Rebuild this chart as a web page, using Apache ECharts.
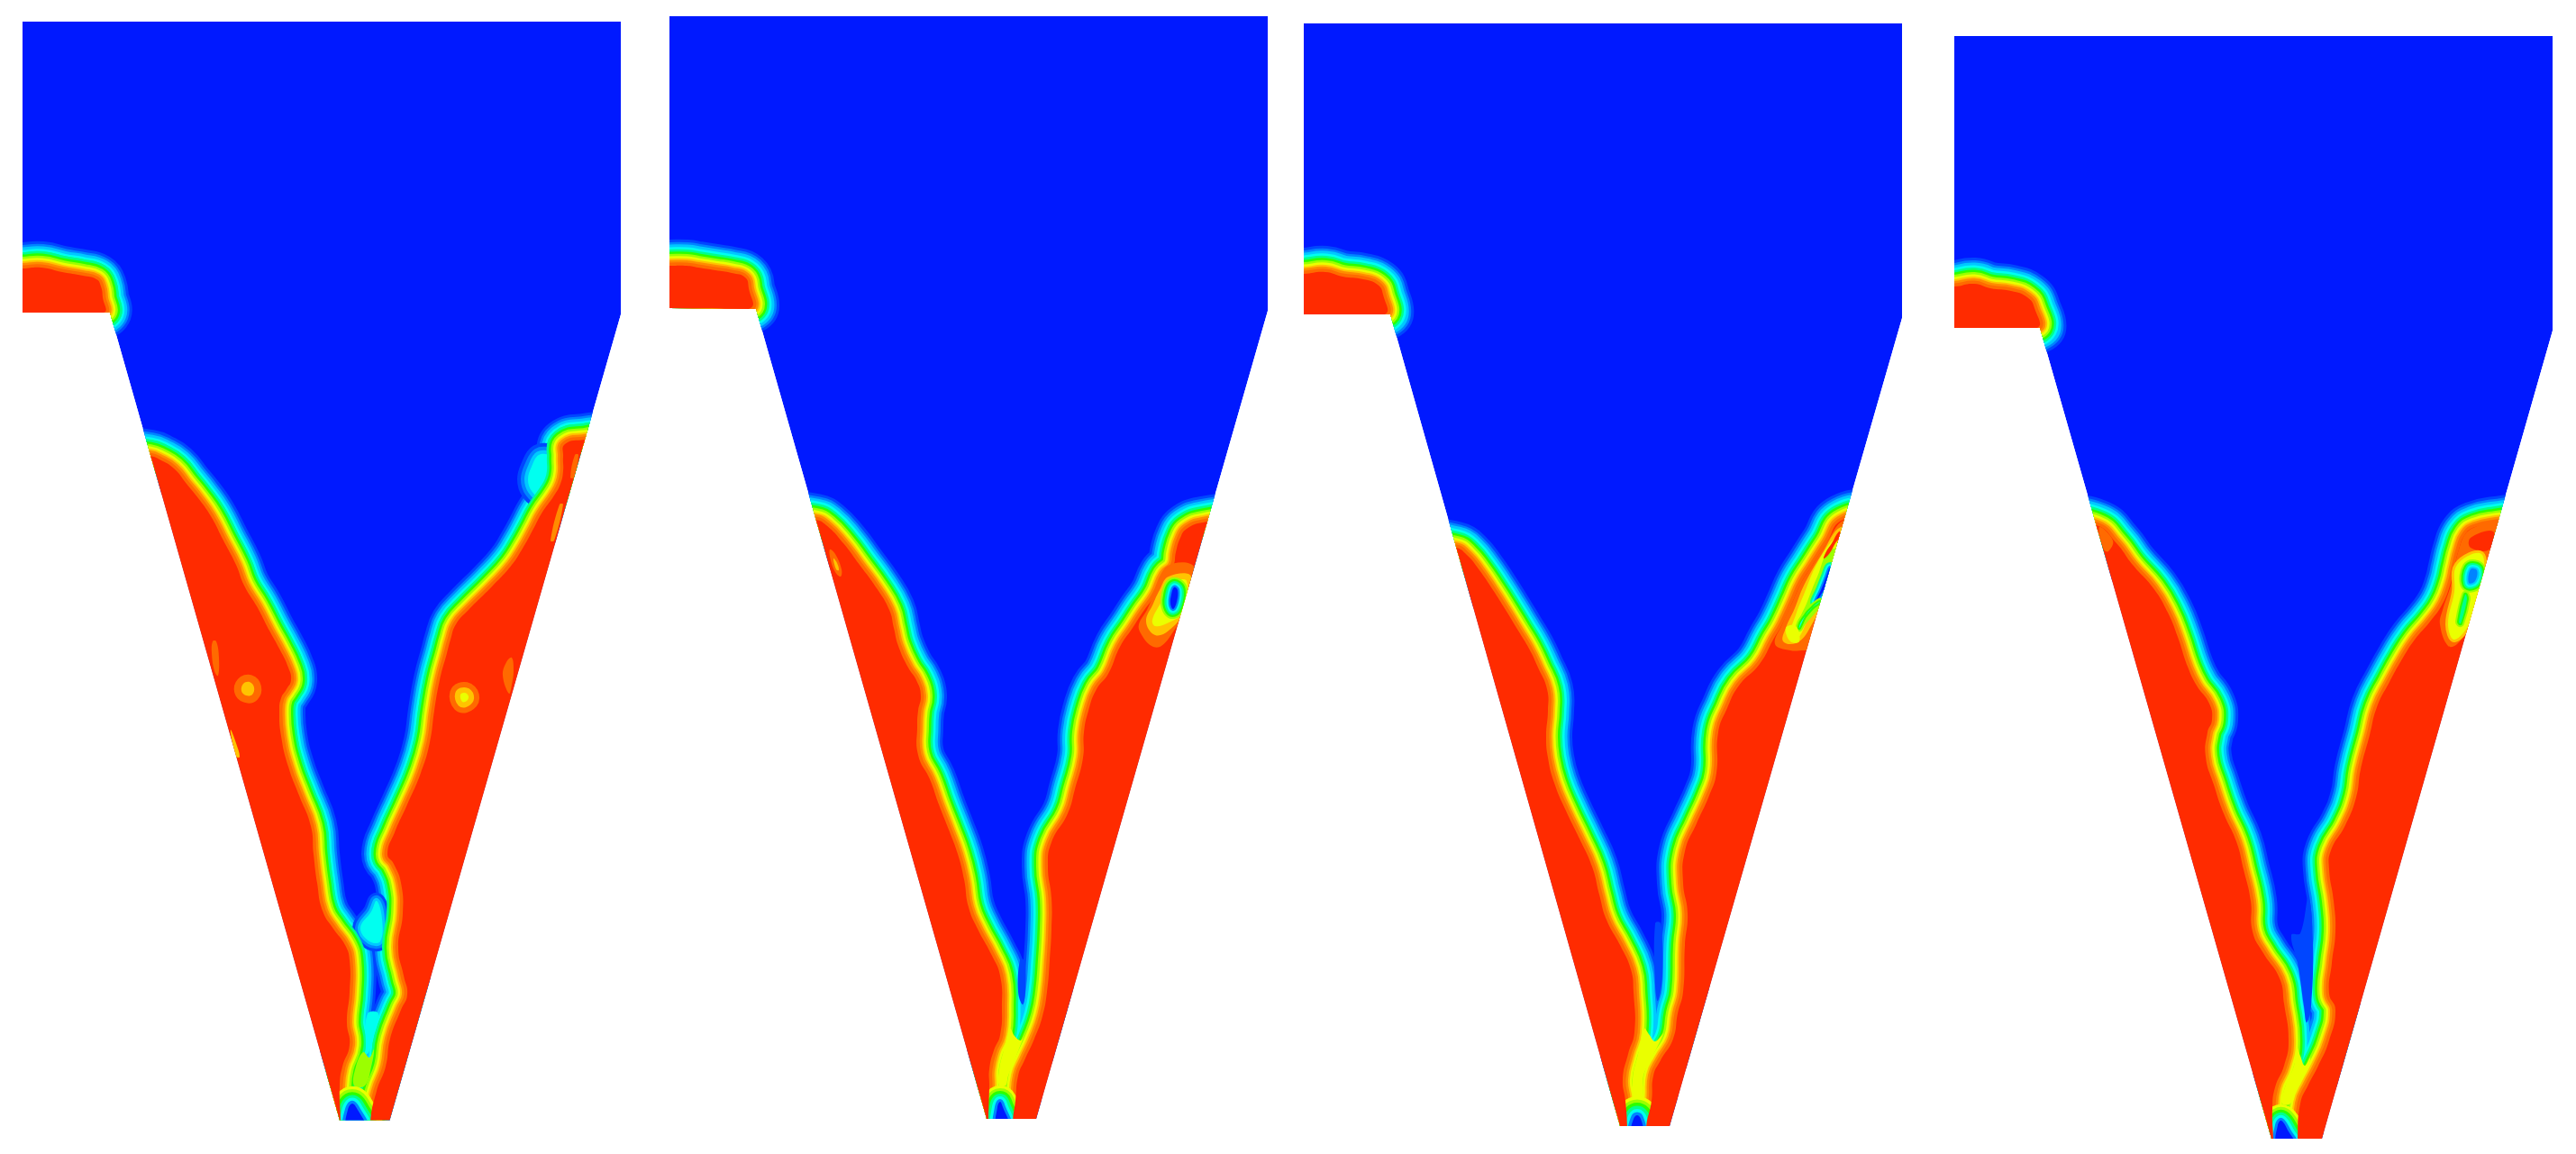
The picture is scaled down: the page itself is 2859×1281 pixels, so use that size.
<!DOCTYPE html>
<html><head><meta charset="utf-8">
<style>html,body{margin:0;padding:0;background:#fff}#c{width:2859px;height:1281px}</style>
<script src="https://cdn.jsdelivr.net/npm/echarts@6/dist/echarts.min.js"></script>
</head><body><div id="c"></div>
<script>
// colour levels of the volume-fraction rainbow
const BLUE='#0019ff',LB='#0046ff',SKY='#0084ff',CY1='#00c8ff',CY='#00fff0',SP='#00ff8c',GR='#2bff00',LI='#9bff00',YE='#eaff00',AM='#ffc400',OR2='#ff8c00',OR='#ff6a00',RED='#ff2b00';
// [colour, distance from the red edge]
const BANDS=[[LB,29],[SKY,26],[CY1,23.5],[CY,20.5],[SP,18],[GR,15.5],[LI,13],[YE,10.5],[AM,8],[OR2,6],[OR,3.5]];
const INNER_FROM=4;

// Panel 1
const p1Domain=[[25,24],[689,24],[689,349],[432.5,1243.5],[377,1243.5],[122,347],[25,347]];
const p1Inlet=[[0,298],[25,298],[46,297],[69,302],[92,306],[107,310],[112,318],[114,330],[115,347],[60,347],[0,347]];
const p1Left=[[166,506],[177,510],[193,520],[207,537],[220,553],[234,573],[248,600],[262,627],[271,650],[285,673],[299,700],[310,720],[320,741],[323,755],[318,765],[312,775],[310,789],[312,817],[320,851],[332,883],[345,917],[348,948],[352,980],[358,1011],[370,1031],[383,1049],[388,1066],[388,1101],[385,1135],[388,1160],[380,1184],[377,1205],[378,1246]];
const p1Right=[[649,488],[627,493],[625,507],[625,523],[622,537],[615,550],[601,570],[592,587],[581,607],[568,627],[547,650],[520,677],[506,693],[500,710],[496,725],[488,755],[482,789],[477,824],[467,858],[452,893],[438,924],[430,948],[437,959],[445,980],[447,1014],[442,1052],[448,1083],[452,1104],[445,1121],[433,1153],[428,1184],[418,1211],[411,1246]];
const p1Pre=[
 [[LB,SKY,CY1,CY],4,[[598,505],[590,518],[586,532],[590,545],[600,552],[612,540],[614,520],[610,506]]],
 [[LB,SKY,CY1,CY],3,[[400,1030],[412,1012],[418,1000],[424,1020],[422,1045],[410,1045]]]
];
const p1Under=[
 [[CY],0,[[408,1125],[420,1125],[414,1153],[408,1170],[406,1160]]],
 [[LI],0,[[403,1168],[410,1174],[415,1165],[412,1184],[405,1205],[393,1205],[395,1184]]],
 [[YE,LI,GR,SP,CY,SKY,BLUE],3.2,[[385,1250],[386,1232],[391,1225],[397,1232],[405,1250]]]
];
const p1Over=[
 [[OR,AM],8,[[270,759],[277,757],[282,763],[280,771],[273,772],[268,767]]],
 [[OR,AM,YE],6,[[511,771],[516,769],[520,773],[518,778],[513,779]]],
 [[OR],0,[[236,712],[240,712],[243,730],[242,750],[238,745],[235,725]]],
 [[OR],0,[[562,735],[568,730],[570,745],[568,760],[565,770],[558,750]]],
 [[AM],0,[[256,810],[262,825],[266,840],[262,840],[258,825]]],
 [[OR],0,[[638,505],[642,505],[637,530],[633,530]]],
 [[OR2],0,[[621,560],[625,560],[615,600],[611,600]]]
];

// Panel 2
const p2Domain=[[743,18],[1407,18],[1407,345],[1150,1242],[1095,1242],[839,343],[743,342]];
const p2Inlet=[[700,295],[743,295],[762,295],[775,297],[794,300],[812,303],[827,308],[831,320],[833,342],[790,342],[700,342]];
const p2Left=[[905,577],[917,583],[936,603],[954,627],[973,653],[987,677],[992,697],[997,717],[1008,741],[1017,755],[1022,772],[1019,789],[1018,806],[1019,838],[1032,865],[1042,893],[1053,921],[1063,948],[1070,976],[1075,1007],[1085,1031],[1100,1059],[1110,1083],[1112,1118],[1110,1149],[1103,1166],[1098,1187],[1098,1205],[1097,1246]];
const p2Right=[[1335,580],[1317,587],[1310,597],[1305,613],[1302,628],[1292,638],[1282,660],[1268,680],[1257,697],[1243,718],[1230,748],[1217,765],[1208,789],[1203,813],[1202,841],[1193,876],[1185,903],[1167,935],[1163,962],[1167,997],[1167,1031],[1165,1066],[1162,1101],[1157,1128],[1148,1153],[1137,1177],[1130,1194],[1127,1222],[1124,1246]];
const p2Pre=[];
const p2Under=[
 [[LB],0,[[1132,1066],[1137,1066],[1138,1101],[1135,1115],[1130,1101]]],
 [[YE],0,[[1121,1142],[1126,1150],[1133,1155],[1137,1148],[1126,1177],[1119,1194],[1116,1205],[1109,1205],[1109,1187],[1114,1166]]],
 [[YE,LI,GR,SP,CY,SKY,BLUE],3,[[1106,1250],[1107,1229],[1110,1223],[1113,1229],[1120,1250]]]
];
const p2Over=[
 [[OR],0,[[1296,628],[1326,630],[1317,677],[1305,697],[1289,717],[1278,717],[1266,703],[1264,693],[1273,677],[1282,657]]],
 [[AM],0,[[1297,640],[1322,640],[1313,680],[1297,700],[1282,705],[1272,690],[1280,670],[1287,655]]],
 [[YE],0,[[1300,648],[1317,645],[1312,680],[1295,692],[1282,695],[1279,688],[1289,668]]],
 [[LI,GR,SP,CY,SKY,BLUE],2.2,[[1303,652],[1307,655],[1306,668],[1302,676],[1299,670],[1300,660]]],
 [[OR],0,[[921,610],[927,615],[934,632],[933,640],[927,635],[922,622]]],
 [[AM],0,[[925,620],[929,625],[931,633],[928,632]]]
];

// Panel 3
const p3Domain=[[1447,26],[2111,26],[2111,353],[1853,1250],[1798,1250],[1543,349],[1447,349]];
const p3Inlet=[[1400,304],[1447,304],[1471,302],[1490,307],[1513,310],[1529,316],[1535,327],[1537,349],[1490,349],[1400,349]];
const p3Left=[[1616,608],[1628,616],[1642,633],[1657,655],[1671,677],[1685,700],[1697,720],[1707,741],[1717,765],[1718,789],[1716,817],[1718,841],[1725,869],[1738,900],[1753,931],[1767,962],[1775,993],[1783,1021],[1798,1049],[1810,1076],[1813,1101],[1814,1146],[1807,1170],[1801,1198],[1804,1222],[1806,1252]];
const p3Right=[[2045,577],[2027,603],[2011,628],[1999,647],[1990,667],[1978,693],[1968,710],[1953,737],[1930,761],[1917,786],[1907,813],[1905,858],[1897,883],[1883,914],[1870,945],[1868,980],[1873,1014],[1870,1049],[1868,1101],[1862,1125],[1857,1153],[1843,1177],[1835,1194],[1833,1222],[1827,1252]];
const p3Pre=[];
const p3Under=[
 [[LB],0,[[1837,1025],[1843,1025],[1845,1083],[1840,1111],[1837,1094]]],
 [[YE],0,[[1825,1142],[1830,1148],[1837,1156],[1846,1147],[1832,1177],[1824,1194],[1822,1222],[1815,1222],[1812,1198],[1818,1170]]],
 [[YE,LI,GR,SP,CY,SKY,BLUE],3.5,[[1811,1256],[1813,1242],[1817,1238],[1821,1242],[1823,1256]]]
];
const p3Over=[
 [[OR],0,[[2047,577],[2027,603],[2011,628],[1999,647],[1990,667],[1978,693],[1970,715],[1987,722],[2002,722],[2057,722],[2077,577]]],
 [[AM],0,[[2043,585],[2022,615],[2002,650],[1992,675],[1982,697],[1979,712],[1993,714],[2007,700],[2057,600]]],
 [[YE],0,[[2037,598],[2017,625],[2002,660],[1994,680],[1987,705],[1995,708],[2003,695],[2017,660],[2037,620]]],
 [[LI],0,[[2032,610],[2017,640],[2005,670],[1997,690],[2002,695],[2057,620]]],
 [[RED],0,[[2041,590],[2033,603],[2027,612],[2024,620],[2030,615],[2037,603],[2043,594]]],
 [[LI,SP,CY,SKY,BLUE],2,[[2031,630],[2027,640],[2021,655],[2015,668],[2021,660],[2029,648],[2033,635]]],
 [[LI,GR,CY],2,[[2020,668],[2006,680],[1997,697],[1999,690],[2013,673]]],
 [[YE],0,[[1982,697],[1987,712],[1997,712],[1993,695]]]
];

// Panel 4
const p4Domain=[[2169,40],[2833,40],[2833,367],[2577,1264],[2521,1264],[2264,364],[2169,364]];
const p4Inlet=[[2120,318],[2169,318],[2191,315],[2209,320],[2232,323],[2250,330],[2258,342],[2261,364],[2210,364],[2120,364]];
const p4Left=[[2327,583],[2349,603],[2367,627],[2390,653],[2406,680],[2417,707],[2428,740],[2438,761],[2452,781],[2455,799],[2450,813],[2448,840],[2457,871],[2468,903],[2482,934],[2490,965],[2498,1000],[2500,1034],[2512,1058],[2530,1086],[2535,1114],[2540,1155],[2535,1183],[2525,1207],[2522,1231],[2523,1266]];
const p4Right=[[2770,580],[2747,585],[2736,593],[2729,610],[2724,630],[2720,647],[2711,670],[2697,690],[2680,710],[2667,730],[2652,757],[2638,785],[2630,816],[2620,854],[2615,885],[2603,916],[2587,944],[2585,965],[2590,1000],[2592,1034],[2588,1069],[2585,1103],[2592,1121],[2585,1155],[2573,1183],[2562,1204],[2553,1225],[2550,1266]];
const p4Pre=[];
const p4Under=[
 [[LB],0,[[2543,1038],[2553,1036],[2562,996],[2567,1045],[2565,1117],[2560,1135],[2557,1117],[2550,1069]]],
 [[YE],0,[[2549,1162],[2553,1172],[2558,1183],[2564,1174],[2562,1183],[2551,1204],[2542,1225],[2533,1225],[2536,1207],[2546,1183]]],
 [[YE,LI,GR,SP,CY,SKY,BLUE],3,[[2527,1270],[2528,1249],[2532,1244],[2540,1256],[2547,1270]]]
];
const p4Over=[
 [[OR],0,[[2330,585],[2345,600],[2340,612],[2335,610]]],
 [[OR],0,[[2770,578],[2747,585],[2736,593],[2729,610],[2724,630],[2720,650],[2711,677],[2708,693],[2717,717],[2727,715],[2742,693],[2783,583]]],
 [[RED],0,[[2742,597],[2767,590],[2763,610],[2742,608]]],
 [[AM,YE],3,[[2727,627],[2754,615],[2754,650],[2742,690],[2724,710],[2717,693],[2724,657]]],
 [[LI,GR,SP,CY,CY1,SKY],2,[[2742,632],[2749,633],[2747,645],[2740,647]]],
 [[LI,GR,SP],2,[[2736,660],[2729,690],[2731,692],[2738,665]]]
];

const PANELS=[
 {domain:p1Domain,inlet:p1Inlet,left:p1Left,right:p1Right,pre:p1Pre,under:p1Under,over:p1Over},
 {domain:p2Domain,inlet:p2Inlet,left:p2Left,right:p2Right,pre:p2Pre,under:p2Under,over:p2Over},
 {domain:p3Domain,inlet:p3Inlet,left:p3Left,right:p3Right,pre:p3Pre,under:p3Under,over:p3Over},
 {domain:p4Domain,inlet:p4Inlet,left:p4Left,right:p4Right,pre:p4Pre,under:p4Under,over:p4Over}
];

function closeSide(path,side){
  const f=path[0],l=path[path.length-1];
  return [[f[0]+side*40,f[1]-4]].concat(path,[[l[0],l[1]+40],[l[0]+side*220,l[1]+40],[f[0]+side*240,f[1]-4]]);
}
function renderPanel(params,api){
  const p=PANELS[params.dataIndex];
  const px=a=>a.map(q=>api.coord(q));
  const reds=[p.inlet,closeSide(p.left,-1),closeSide(p.right,1)].map(px);
  const kids=[];
  const shape=(pts,smooth)=>({points:pts,smooth:smooth});
  const strokes=list=>list.forEach(b=>reds.forEach(pts=>kids.push({type:'polygon',shape:shape(pts,0.5),silent:true,style:{fill:'none',stroke:b[0],lineWidth:b[1]*2,lineJoin:'round'}})));
  const stack=list=>list.forEach(it=>{
    const cols=it[0],step=it[1],pts=px(it[2]),n=cols.length;
    cols.forEach((c,i)=>{
      const d=step*(n-1-i);
      if(d>0) kids.push({type:'polygon',shape:shape(pts,0.4),silent:true,style:{fill:c,stroke:c,lineWidth:d*2,lineJoin:'round'}});
      else kids.push({type:'polygon',shape:shape(pts,0.4),silent:true,style:{fill:c}});
    });
  });
  kids.push({type:'polygon',shape:{points:px(p.domain)},style:{fill:BLUE},silent:true});
  strokes(BANDS);
  if(p.pre.length){stack(p.pre);strokes(BANDS.slice(INNER_FROM));}
  stack(p.under);
  reds.forEach(pts=>kids.push({type:'polygon',shape:shape(pts,0.5),silent:true,style:{fill:RED}}));
  stack(p.over);
  return {type:'group',children:kids,clipPath:{type:'polygon',shape:{points:px(p.domain)}}};
}
const chart=echarts.init(document.getElementById('c'));
chart.setOption({
  animation:false,backgroundColor:'#fff',
  grid:{left:0,right:0,top:0,bottom:0},
  xAxis:{type:'value',min:0,max:2859,show:false},
  yAxis:{type:'value',min:0,max:1281,inverse:true,show:false},
  tooltip:{show:false},
  series:[{type:'custom',coordinateSystem:'cartesian2d',clip:false,silent:true,data:[[0,0],[1,0],[2,0],[3,0]],renderItem:renderPanel}]
});
</script></body></html>
